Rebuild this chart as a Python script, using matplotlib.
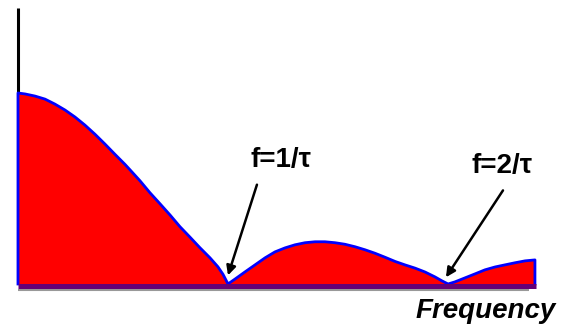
import matplotlib
matplotlib.use("Agg")
import matplotlib.pyplot as plt

# spectrum magnitude (frequency in 1/tau, magnitude normalised)
freq = [0.0, 0.033, 0.079, 0.126, 0.172, 0.219, 0.266, 0.312, 0.359, 0.406, 0.452,
        0.499, 0.522, 0.569, 0.615, 0.662, 0.709, 0.755, 0.802, 0.848, 0.895, 0.932,
        0.956, 0.979,
        1.012, 1.058, 1.105, 1.152, 1.198, 1.245, 1.291, 1.338, 1.385, 1.431, 1.478,
        1.524, 1.571, 1.618, 1.664, 1.711, 1.758, 1.804, 1.851, 1.897, 1.944, 1.977,
        2.005,
        2.037, 2.084, 2.131, 2.177, 2.224, 2.270, 2.317, 2.364, 2.410]
mag = [1.0, 0.995, 0.984, 0.968, 0.942, 0.911, 0.874, 0.832, 0.784, 0.732, 0.679,
       0.626, 0.598, 0.540, 0.478, 0.420, 0.361, 0.300, 0.245, 0.190, 0.137, 0.090,
       0.050, 0.0,
       0.026, 0.063, 0.100, 0.137, 0.168, 0.189, 0.205, 0.216, 0.221, 0.221, 0.216,
       0.208, 0.195, 0.179, 0.161, 0.140, 0.118, 0.100, 0.083, 0.063, 0.037, 0.016,
       0.0,
       0.011, 0.032, 0.053, 0.074, 0.089, 0.100, 0.111, 0.121, 0.126]

labels = ["f=1/\u03c4", "f=2/\u03c4"]
label_pos = [(1.226, 0.65), (2.256, 0.62)]
arrow_from = [(1.114, 0.52), (2.261, 0.49)]
arrow_to = [(0.979, 0.045), (1.995, 0.035)]

plt.rcParams['font.family'] = ['Liberation Sans', 'DejaVu Sans']

fig = plt.figure(figsize=(5.65, 3.3), dpi=100)
ax = fig.add_axes([0, 0, 1, 1])
ax.set_xlim(-18 / 214.5, 547 / 214.5)
ax.set_ylim(-0.241, 1.487)
ax.axis('off')

# vertical axis
ax.plot([0, 0], [0, 1.445], color='black', lw=2.2, solid_capstyle='butt', zorder=1)
# grey axis line under the spectrum
ax.plot([0, 2.38], [-0.031, -0.031], color='#999999', lw=1.5, solid_capstyle='butt', zorder=1)

ax.fill_between(freq, 0, mag, color='#ff0000', lw=0, zorder=2)
xs = [0] + freq + [freq[-1]]
ys = [0] + mag + [0]
ax.plot(xs, ys, color='#0000ff', lw=2.0, zorder=3, solid_joinstyle='round')
ax.plot([0, freq[-1] + 0.005], [-0.008, -0.008], color='#660077', lw=3.6,
        solid_capstyle='butt', zorder=4)

for lab, pos, a0, a1 in zip(labels, label_pos, arrow_from, arrow_to):
    ax.text(pos[0], pos[1], lab, fontsize=20, fontweight='bold',
            ha='center', va='center', zorder=5)
    ax.annotate('', xy=a1, xytext=a0,
                arrowprops=dict(arrowstyle='-|>', color='black', lw=1.8,
                                mutation_scale=14, shrinkA=0, shrinkB=0), zorder=5)

ax.text(2.182, -0.141, 'Frequency', fontsize=20, style='italic', fontweight='bold',
        ha='center', va='center')

fig.savefig('out.png', dpi=100)
